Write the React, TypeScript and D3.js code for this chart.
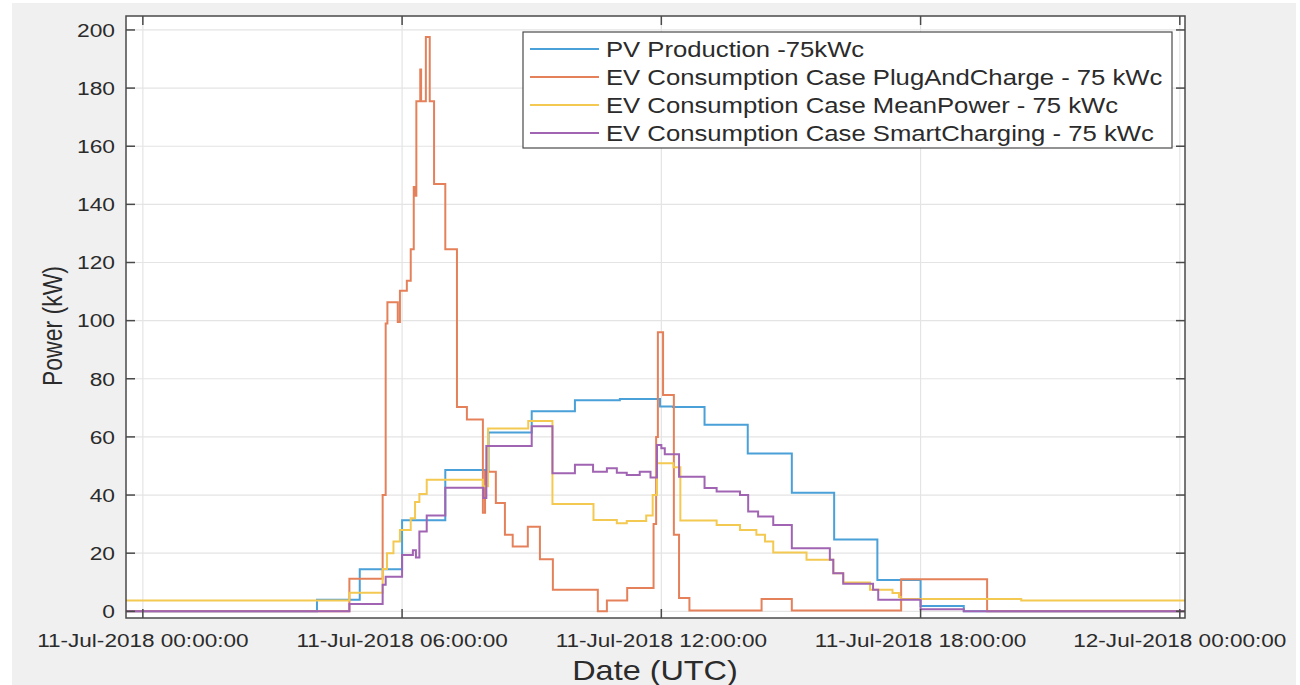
import React from "react";
import * as d3 from "d3";

// ---- data (hours since 11-Jul-2018 00:00 UTC, kW), step-after series ----
const xTickHours = [0, 6, 12, 18, 24];
const xTickLabels = [
  "11-Jul-2018 00:00:00",
  "11-Jul-2018 06:00:00",
  "11-Jul-2018 12:00:00",
  "11-Jul-2018 18:00:00",
  "12-Jul-2018 00:00:00",
];
const yTicks = [0, 20, 40, 60, 80, 100, 120, 140, 160, 180, 200];

const seriesNames = [
  "PV Production -75kWc",
  "EV Consumption Case PlugAndCharge - 75 kWc",
  "EV Consumption Case MeanPower - 75 kWc",
  "EV Consumption Case SmartCharging - 75 kWc",
];
const seriesColors = ["#4aa0d8", "#e5815a", "#f4c952", "#a064b3"];

const pvProduction: [number, number][] = [
  [0, 0], [4.03, 4], [5.02, 14.5], [6, 31.3], [7, 48.6], [8, 61.5], [9, 68.8],
  [10, 72.6], [11.04, 73], [11.97, 70.5], [12.27, 70.3], [13, 64.2], [14, 54.3],
  [15.02, 40.8], [16, 24.7], [17, 10.8], [18, 1.8], [19, 0],
];

const plugAndCharge: [number, number][] = [
  [0, 0], [4.78, 11.2], [5.55, 40], [5.62, 99], [5.66, 106.3], [5.9, 99.5],
  [5.95, 110.3], [6.11, 113.7], [6.2, 124.6], [6.27, 146], [6.3, 143],
  [6.33, 175.5], [6.42, 186.4], [6.44, 175.5], [6.55, 197.6], [6.64, 175.5],
  [6.74, 147], [7.0, 124.6], [7.27, 70.3], [7.5, 66.0], [7.87, 33.9], [7.92, 48],
  [8.17, 37.3], [8.38, 26.3], [8.56, 22.3], [8.91, 29.1], [9.19, 17.9],
  [9.49, 7.4], [10.53, 0], [10.74, 3.7], [11.21, 8], [11.82, 30], [11.88, 60],
  [11.92, 96], [12.04, 74.4], [12.29, 26.3], [12.41, 4.6], [12.65, 0.3],
  [14.32, 4.2], [15.02, 0.3], [17.55, 11], [19.54, 0],
];

const meanPower: [number, number][] = [
  [0, 3.7], [4.78, 6.4], [5.55, 14.6], [5.65, 20], [5.8, 24], [5.95, 28],
  [6.2, 32], [6.3, 37.6], [6.4, 40.4], [6.57, 45.3], [7.87, 43], [7.99, 62.9],
  [8.92, 65.5], [9.48, 36.9], [10.43, 31.4], [10.97, 30.3], [11.2, 31.1],
  [11.65, 33], [11.8, 40], [11.9, 50.9], [12.28, 49.6], [12.44, 31.2],
  [13.28, 29.7], [13.82, 28], [14.2, 26.3], [14.4, 24], [14.59, 20.2],
  [15.36, 17.7], [15.98, 13.1], [16.21, 9.9], [16.83, 7.4], [17.35, 6.3],
  [17.5, 4.9], [17.54, 4.2], [20.33, 3.7],
];

const smartCharging: [number, number][] = [
  [0, 0], [4.78, 2.5], [5.55, 9.1], [5.62, 11.9], [6.0, 19.4], [6.25, 21],
  [6.32, 18.5], [6.4, 27.5], [6.57, 33], [7.0, 42.5], [7.88, 39], [7.95, 56.9],
  [9.0, 63.7], [9.48, 47.5], [10.0, 50.4], [10.42, 48.0], [10.74, 49.2],
  [10.97, 47.7], [11.2, 46.9], [11.5, 48.0], [11.75, 46], [11.9, 57.2],
  [12.0, 56.1], [12.08, 54.0], [12.41, 46.3], [13.0, 42.4], [13.28, 41.2],
  [13.82, 40.0], [14.01, 34.3], [14.24, 32.6], [14.59, 29.7], [15.02, 21.7],
  [15.9, 17.7], [15.98, 13.1], [16.21, 9.5], [16.9, 7.4], [17.02, 4.0],
  [18.0, 0.7], [19.0, 0],
];

const allSeries = [pvProduction, plugAndCharge, meanPower, smartCharging];

const FONT = "'Liberation Sans', Arial, Helvetica, sans-serif";
const SX = 1.2; // horizontal glyph stretch seen in the reference

function SText(props: {
  x: number; y: number; size: number; anchor?: string; children: React.ReactNode; fill?: string;
}) {
  const { x, y, size, anchor = "start", children, fill = "#2b2b2b" } = props;
  return (
    <text
      transform={`translate(${x},${y}) scale(${SX},1)`}
      fontFamily={FONT}
      fontSize={size}
      textAnchor={anchor}
      fill={fill}
    >
      {children}
    </text>
  );
}

export default function App() {
  const W = 1300;
  const H = 685;
  const left = 126, right = 1185, top = 16, bottom = 618;
  const xDom: [number, number] = [-0.39, 24.12];
  const x = d3.scaleLinear().domain(xDom).range([left, right]);
  const y = d3.scaleLinear().domain([-2.3, 204.8]).range([bottom, top]);

  const line = d3
    .line<[number, number]>()
    .x((d) => x(d[0]))
    .y((d) => y(d[1]))
    .curve(d3.curveStepAfter);

  const extend = (s: [number, number][]): [number, number][] => [
    [xDom[0], s[0][1]],
    ...s,
    [xDom[1], s[s.length - 1][1]],
  ];

  const tickLen = 9;
  const axisColor = "#4a4a4a";
  const gridColor = "#e4e4e4";

  const legX = 523, legY = 32, legW = 649, legH = 116;
  const rowY = [49, 77, 105, 133];

  return (
    <svg
      width={W}
      height={H}
      style={{ position: "absolute", left: 0, top: 0, display: "block" }}
    >
      <rect x={0} y={0} width={W} height={H} fill="#ffffff" />
      <rect x={12} y={3} width={W - 16} height={H - 3} fill="#f0f0f0" />
      <rect x={left} y={top} width={right - left} height={bottom - top} fill="#ffffff" />
      <defs>
        <clipPath id="plotclip">
          <rect x={left} y={top} width={right - left} height={bottom - top} />
        </clipPath>
      </defs>

      {/* grid */}
      {xTickHours.map((h) => (
        <line key={"gx" + h} x1={x(h)} x2={x(h)} y1={top} y2={bottom} stroke={gridColor} strokeWidth={1.2} />
      ))}
      {yTicks.map((v) => (
        <line key={"gy" + v} x1={left} x2={right} y1={y(v)} y2={y(v)} stroke={gridColor} strokeWidth={1.2} />
      ))}

      {/* series */}
      <g clipPath="url(#plotclip)">
        {allSeries.map((s, i) => (
          <path
            key={"s" + i}
            d={line(extend(s)) || ""}
            fill="none"
            stroke={seriesColors[i]}
            strokeWidth={2}
            strokeLinejoin="miter"
          />
        ))}
      </g>

      {/* axes box and ticks */}
      <rect x={left} y={top} width={right - left} height={bottom - top} fill="none" stroke={axisColor} strokeWidth={1.5} />
      {xTickHours.map((h) => (
        <g key={"tx" + h}>
          <line x1={x(h)} x2={x(h)} y1={bottom} y2={bottom - tickLen} stroke={axisColor} strokeWidth={1.5} />
          <line x1={x(h)} x2={x(h)} y1={top} y2={top + tickLen} stroke={axisColor} strokeWidth={1.5} />
        </g>
      ))}
      {yTicks.map((v) => (
        <g key={"ty" + v}>
          <line x1={left} x2={left + tickLen} y1={y(v)} y2={y(v)} stroke={axisColor} strokeWidth={1.5} />
          <line x1={right} x2={right - tickLen} y1={y(v)} y2={y(v)} stroke={axisColor} strokeWidth={1.5} />
        </g>
      ))}

      {/* tick labels */}
      {xTickHours.map((h, i) => (
        <SText key={"lx" + h} x={x(h)} y={647} size={18.8} anchor="middle">
          {xTickLabels[i]}
        </SText>
      ))}
      {yTicks.map((v) => (
        <SText key={"ly" + v} x={115} y={y(v) + 6.8} size={19} anchor="end">
          {String(v)}
        </SText>
      ))}

      {/* axis titles */}
      <SText x={655} y={680} size={27} anchor="middle">
        Date (UTC)
      </SText>
      <text
        transform={`translate(62,326) rotate(-90) scale(1,${SX})`}
        fontFamily={FONT}
        fontSize={23}
        textAnchor="middle"
        fill="#2b2b2b"
      >
        Power (kW)
      </text>

      {/* legend */}
      <rect x={legX} y={legY} width={legW} height={legH} fill="#ffffff" stroke={axisColor} strokeWidth={1.2} />
      {seriesNames.map((n, i) => (
        <g key={"lg" + i}>
          <line x1={530} x2={599} y1={rowY[i]} y2={rowY[i]} stroke={seriesColors[i]} strokeWidth={2} />
          <SText x={606} y={rowY[i] + 7.5} size={21.4}>
            {n}
          </SText>
        </g>
      ))}
    </svg>
  );
}
